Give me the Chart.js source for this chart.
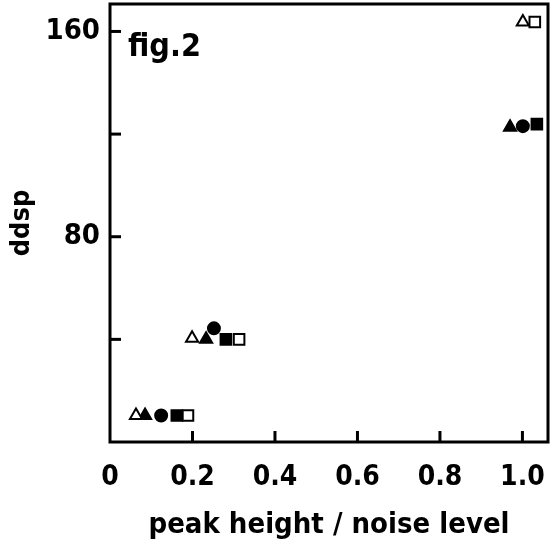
<!DOCTYPE html>
<html>
<head>
<meta charset="utf-8">
<script src="https://cdn.jsdelivr.net/npm/chart.js@4/dist/chart.umd.min.js"></script>
<style>
html,body{margin:0;padding:0;background:#fff;}
#wrap{width:554px;height:547px;position:relative;}
</style>
</head>
<body>
<div id="wrap"><canvas id="c" width="554" height="547"></canvas></div>
<script>
// ---- data ----
const openTriangleX   = [0.063, 0.199, 1.001];
const openTriangleY   = [10.3, 40.4, 163.7];
const filledTriangleX = [0.085, 0.233, 0.970];
const filledTriangleY = [10.3, 40.0, 122.7];
const filledCircleX   = [0.124, 0.252, 1.001];
const filledCircleY   = [10.3, 44.3, 123.1];
const filledSquareX   = [0.162, 0.281, 1.035];
const filledSquareY   = [10.3, 40.0, 123.9];
const openSquareX     = [0.189, 0.313, 1.030];
const openSquareY     = [10.3, 40.0, 163.7];
const xTickValues = [0, 0.2, 0.4, 0.6, 0.8, 1.0];
const yTickValues = [0, 40, 80, 120, 160];
const yLabelValues = [80, 160];
const xTitle = 'peak height / noise level';
const yTitle = 'ddsp';
const figLabel = 'fig.2';

const FONT = '"DejaVu Sans Condensed", "DejaVu Sans", sans-serif';

function pts(xs, ys){ return xs.map((x,i)=>({x:x, y:ys[i]})); }

const frameAndTicks = {
  id: 'frameAndTicks',
  afterDatasetsDraw(chart){
    const ctx = chart.ctx, a = chart.chartArea;
    const xs = chart.scales.x, ys = chart.scales.y;
    ctx.save();
    ctx.strokeStyle = '#000';
    ctx.lineWidth = 3;
    ctx.strokeRect(a.left, a.top, a.right - a.left, a.bottom - a.top);
    const tl = 11;
    xs.ticks.forEach(t => {
      if (t.value <= 0) return;
      const px = xs.getPixelForValue(t.value);
      ctx.beginPath(); ctx.moveTo(px, a.bottom); ctx.lineTo(px, a.bottom - tl); ctx.stroke();
    });
    ys.ticks.forEach(t => {
      if (t.value <= 0) return;
      const py = ys.getPixelForValue(t.value);
      ctx.beginPath(); ctx.moveTo(a.left, py); ctx.lineTo(a.left + tl, py); ctx.stroke();
    });
    ctx.fillStyle = '#000';
    ctx.font = 'bold 32px ' + FONT;
    ctx.textBaseline = 'alphabetic';
    ctx.textAlign = 'left';
    ctx.fillText(figLabel, a.left + 18, a.top + 52);
    ctx.restore();
  }
};

const common = { showLine:false, borderColor:'#000', borderWidth:2 };

new Chart(document.getElementById('c'), {
  type: 'scatter',
  data: {
    datasets: [
      Object.assign({label:'open triangle', data: pts(openTriangleX, openTriangleY), pointStyle:'triangle', pointRadius:7, backgroundColor:'#fff'}, common),
      Object.assign({label:'filled triangle', data: pts(filledTriangleX, filledTriangleY), pointStyle:'triangle', pointRadius:7, backgroundColor:'#000'}, common),
      Object.assign({label:'filled circle', data: pts(filledCircleX, filledCircleY), pointStyle:'circle', pointRadius:6, backgroundColor:'#000'}, common),
      Object.assign({label:'filled square', data: pts(filledSquareX, filledSquareY), pointStyle:'rect', pointRadius:7.5, backgroundColor:'#000'}, common),
      Object.assign({label:'open square', data: pts(openSquareX, openSquareY), pointStyle:'rect', pointRadius:7.5, backgroundColor:'#fff'}, common)
    ]
  },
  options: {
    responsive: false,
    animation: false,
    clip: false,
    layout: { autoPadding: false, padding: { left: 0, right: 6, top: 4, bottom: 0 } },
    plugins: { legend: { display:false }, tooltip: { enabled:false } },
    elements: { point: { hoverRadius: 7 } },
    scales: {
      x: {
        type: 'linear', min: 0, max: 1.062,
        afterFit: s => { s.height = 105; s.paddingLeft = 0; s.paddingRight = 0; },
        border: { display:false },
        grid: { display:false, drawTicks:false },
        afterBuildTicks: s => { s.ticks = xTickValues.map(v => ({value:v})); },
        ticks: {
          padding: 19, color:'#000', maxRotation:0, autoSkip:false,
          font: { family: FONT, size: 28, weight: 'bold' },
          callback: v => (v === 0 ? '0' : Number(v).toFixed(1))
        },
        title: { display:true, text: xTitle, color:'#000', padding:{top:0, bottom:4},
          font: { family: FONT, size: 29, weight: 'bold' } }
      },
      y: {
        type: 'linear', min: 0, max: 170.7,
        afterFit: s => { s.width = 110; s.paddingTop = 0; s.paddingBottom = 0; },
        border: { display:false },
        grid: { display:false, drawTicks:false },
        afterBuildTicks: s => { s.ticks = yTickValues.map(v => ({value:v})); },
        ticks: {
          padding: 10, color:'#000', autoSkip:false,
          font: { family: FONT, size: 29, weight: 'bold' },
          callback: v => (yLabelValues.includes(v) ? String(v) : '')
        },
        title: { display:true, text: yTitle, color:'#000', padding:{top:6, bottom:0},
          font: { family: FONT, size: 27, weight: 'bold' } }
      }
    }
  },
  plugins: [frameAndTicks]
});
</script>
</body>
</html>
